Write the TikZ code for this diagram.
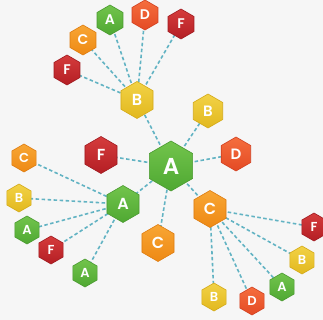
\documentclass[tikz,border=0pt]{standalone}
\usepackage{fontspec}
\newfontfamily\hexfont{Poppins}[BoldFont={Poppins SemiBold}]
\usetikzlibrary{shapes.geometric}
\pgfdeclarelayer{back}
\pgfdeclarelayer{links}
\pgfsetlayers{back,links,main}

\definecolor{bgc}{HTML}{F6F6F6}
\definecolor{linkc}{HTML}{62B3C3}
\definecolor{grT}{HTML}{72C44C}\definecolor{grB}{HTML}{4FA832}\definecolor{grE}{HTML}{4A9A30}
\definecolor{yeT}{HTML}{F2D246}\definecolor{yeB}{HTML}{E2B81E}\definecolor{yeE}{HTML}{D4AA18}
\definecolor{orT}{HTML}{F8A634}\definecolor{orB}{HTML}{EE8914}\definecolor{orE}{HTML}{DE7C10}
\definecolor{dsT}{HTML}{F56E3E}\definecolor{dsB}{HTML}{E44A24}\definecolor{dsE}{HTML}{D24020}
\definecolor{rdT}{HTML}{D53C3C}\definecolor{rdB}{HTML}{B41E24}\definecolor{rdE}{HTML}{A01A20}

\tikzset{
  hex/.style={regular polygon, regular polygon sides=6, shape border rotate=30,
    inner sep=0pt, text=white, line width=0.6pt, font=\hexfont\bfseries},
  gA/.style={hex, top color=grT, bottom color=grB, draw=grE},
  gB/.style={hex, top color=yeT, bottom color=yeB, draw=yeE},
  gC/.style={hex, top color=orT, bottom color=orB, draw=orE},
  gD/.style={hex, top color=dsT, bottom color=dsB, draw=dsE},
  gF/.style={hex, top color=rdT, bottom color=rdB, draw=rdE},
  big/.style={minimum size=50pt, font=\hexfont\bfseries\fontsize{23}{23}\selectfont},
  mid/.style={minimum size=37pt, font=\hexfont\bfseries\fontsize{16}{16}\selectfont},
  midsm/.style={minimum size=34pt, font=\hexfont\bfseries\fontsize{15}{15}\selectfont},
  leaf/.style={minimum size=30pt, font=\hexfont\bfseries\fontsize{14}{14}\selectfont},
  small/.style={minimum size=28pt, font=\hexfont\bfseries\fontsize{13}{13}\selectfont},
  link/.style={draw=linkc, line width=1.6pt, dash pattern=on 3.5pt off 2.5pt}
}

\begin{document}
\begin{tikzpicture}[x=1pt,y=-1pt]
\useasboundingbox (0,0) rectangle (323,320);
\clip (0,0) rectangle (323,320);
\begin{pgfonlayer}{back}
  \fill[bgc] (0,0) rectangle (323,320);
\end{pgfonlayer}

% centre node and its direct neighbours
\node[gA,big] (amain) at (171,166) {A};
\node[gB,mid] (bhub) at (137,100) {B};
\node[gF,mid] (fmid) at (101,155) {F};
\node[gB,midsm] (bmid) at (208,111) {B};
\node[gD,midsm] (dmid) at (236,154) {D};
\node[gC,mid] (cmid) at (158,243) {C};
\node[gA,mid] (ahub) at (123,204) {A};
\node[gC,mid] (chub) at (210,209) {C};

% leaves of the upper B
\node[gF,leaf] (f1) at (67,70) {F};
\node[gC,leaf] (c1) at (83,40) {C};
\node[gA,leaf] (a1) at (110,20) {A};
\node[gD,leaf] (d1) at (145,15) {D};
\node[gF,leaf] (f2) at (181,24) {F};

% leaves of the left A
\node[gC,small] (c2) at (24,158) {C};
\node[gB,small] (b2) at (19,198) {B};
\node[gA,small] (a2) at (27,230) {A};
\node[gF,small] (f3) at (51,250) {F};
\node[gA,small] (a3) at (85,273) {A};

% leaves of the right C
\node[gF,small] (f4) at (314,227) {F};
\node[gB,small] (b3) at (302,260) {B};
\node[gA,small] (a4) at (282,287) {A};
\node[gD,small] (d2) at (252,301) {D};
\node[gB,small] (b4) at (214,297) {B};

\begin{pgfonlayer}{links}
  \foreach \n in {bhub,fmid,bmid,dmid,cmid,ahub,chub}
    \draw[link] (amain.center) -- (\n.center);
  \foreach \n in {f1,c1,a1,d1,f2}
    \draw[link] (bhub.center) -- (\n.center);
  \foreach \n in {c2,b2,a2,f3,a3}
    \draw[link] (ahub.center) -- (\n.center);
  \foreach \n in {f4,b3,a4,d2,b4}
    \draw[link] (chub.center) -- (\n.center);
\end{pgfonlayer}
\end{tikzpicture}
\end{document}
